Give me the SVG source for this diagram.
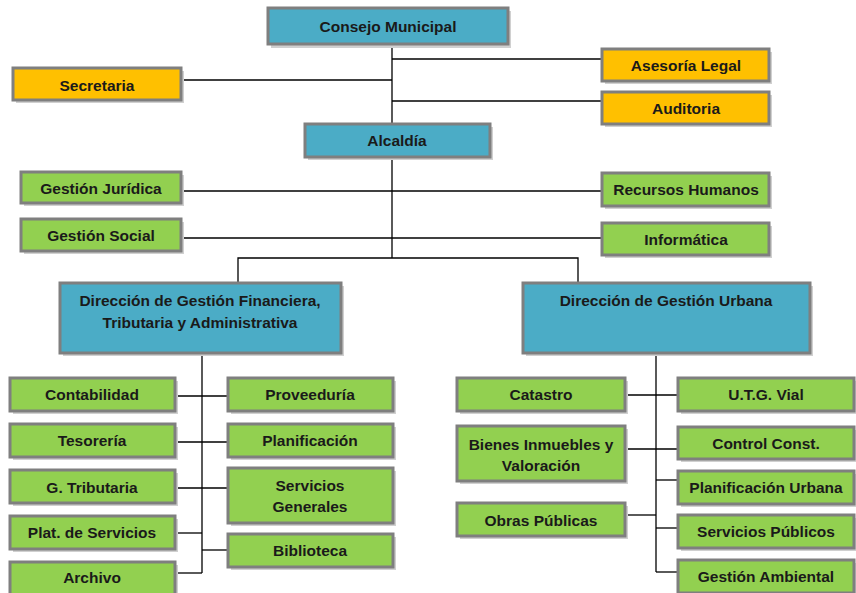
<svg xmlns="http://www.w3.org/2000/svg" width="856" height="593" viewBox="0 0 856 593">
<defs>
<style>
.box{stroke:#7f7f7f;stroke-width:3}
.sh{fill:#d0d0d0}
.b{fill:#4bacc6}
.o{fill:#ffc000}
.g{fill:#92d050}
text{font-family:"Liberation Sans",Arial,sans-serif;font-weight:bold;font-size:15.5px;fill:#1a1a1a;text-anchor:middle;dominant-baseline:central}
.c line,.c path{stroke:#000;stroke-width:1.3;fill:none}
</style>
</defs>
<rect width="856" height="593" fill="#fff"/>
<g class="c" id="connectors">
<line x1="392" y1="45" x2="392" y2="124"/>
<line x1="182" y1="80" x2="392" y2="80"/>
<line x1="392" y1="59" x2="602" y2="59"/>
<line x1="392" y1="101" x2="602" y2="101"/>
<line x1="392" y1="157" x2="392" y2="258"/>
<line x1="182" y1="191" x2="602" y2="191"/>
<line x1="182" y1="238" x2="602" y2="238"/>
<path d="M238,283 V258 H578 V283"/>
<line x1="202" y1="353" x2="202" y2="573"/>
<line x1="175" y1="396" x2="228" y2="396"/>
<line x1="175" y1="442" x2="228" y2="442"/>
<line x1="175" y1="488" x2="228" y2="488"/>
<line x1="175" y1="533" x2="202" y2="533"/>
<line x1="202" y1="550" x2="228" y2="550"/>
<line x1="175" y1="573" x2="202" y2="573"/>
<line x1="656" y1="353" x2="656" y2="572"/>
<line x1="625" y1="395" x2="678" y2="395"/>
<line x1="625" y1="449" x2="678" y2="449"/>
<line x1="625" y1="515" x2="656" y2="515"/>
<line x1="656" y1="480" x2="678" y2="480"/>
<line x1="656" y1="528" x2="678" y2="528"/>
<line x1="656" y1="572" x2="678" y2="572"/>
</g>
<g id="consejo"><rect class="sh" x="271" y="11" width="240" height="37"/><rect class="box b" x="268" y="8" width="240" height="36"/><text x="388" y="26">Consejo Municipal</text></g>
<g id="secretaria"><rect class="sh" x="16" y="71" width="168" height="32"/><rect class="box o" x="13" y="68" width="168" height="32"/><text x="97" y="85">Secretaria</text></g>
<g id="asesoria"><rect class="sh" x="605" y="52" width="167" height="32"/><rect class="box o" x="602" y="49" width="167" height="32"/><text x="686" y="65">Asesoría Legal</text></g>
<g id="auditoria"><rect class="sh" x="605" y="95" width="167" height="32"/><rect class="box o" x="602" y="92" width="167" height="32"/><text x="686" y="108">Auditoria</text></g>
<g id="alcaldia"><rect class="sh" x="308" y="127" width="185" height="33"/><rect class="box b" x="305" y="124" width="185" height="33"/><text x="397" y="140">Alcaldía</text></g>
<g id="juridica"><rect class="sh" x="24" y="175" width="160" height="31"/><rect class="box g" x="21" y="172" width="160" height="31"/><text x="101" y="188">Gestión Jurídica</text></g>
<g id="social"><rect class="sh" x="24" y="222" width="160" height="32"/><rect class="box g" x="21" y="219" width="160" height="32"/><text x="101" y="235">Gestión Social</text></g>
<g id="rrhh"><rect class="sh" x="605" y="176" width="167" height="33"/><rect class="box g" x="602" y="173" width="167" height="33"/><text x="686" y="189">Recursos Humanos</text></g>
<g id="informatica"><rect class="sh" x="605" y="226" width="167" height="32"/><rect class="box g" x="602" y="223" width="167" height="32"/><text x="686" y="239">Informática</text></g>
<g id="dir-fin"><rect class="sh" x="63" y="286" width="281" height="70"/><rect class="box b" x="60" y="283" width="281" height="70"/><text x="200" y="300">Dirección de Gestión Financiera,</text><text x="200" y="322">Tributaria y Administrativa</text></g>
<g id="dir-urb"><rect class="sh" x="526" y="286" width="287" height="70"/><rect class="box b" x="523" y="283" width="287" height="70"/><text x="666" y="300">Dirección de Gestión Urbana</text></g>
<g id="contabilidad"><rect class="sh" x="13" y="381" width="165" height="33"/><rect class="box g" x="10" y="378" width="165" height="33"/><text x="92" y="394">Contabilidad</text></g>
<g id="tesoreria"><rect class="sh" x="13" y="427" width="165" height="33"/><rect class="box g" x="10" y="424" width="165" height="33"/><text x="92" y="440">Tesorería</text></g>
<g id="tributaria"><rect class="sh" x="13" y="473" width="165" height="33"/><rect class="box g" x="10" y="470" width="165" height="33"/><text x="92" y="487">G. Tributaria</text></g>
<g id="plataforma"><rect class="sh" x="13" y="519" width="165" height="33"/><rect class="box g" x="10" y="516" width="165" height="33"/><text x="92" y="532">Plat. de Servicios</text></g>
<g id="archivo"><rect class="sh" x="13" y="565" width="165" height="33"/><rect class="box g" x="10" y="562" width="165" height="33"/><text x="92" y="577">Archivo</text></g>
<g id="proveeduria"><rect class="sh" x="231" y="381" width="165" height="33"/><rect class="box g" x="228" y="378" width="165" height="33"/><text x="310" y="394">Proveeduría</text></g>
<g id="planificacion"><rect class="sh" x="231" y="427" width="165" height="33"/><rect class="box g" x="228" y="424" width="165" height="33"/><text x="310" y="440">Planificación</text></g>
<g id="serv-generales"><rect class="sh" x="231" y="471" width="165" height="55"/><rect class="box g" x="228" y="468" width="165" height="55"/><text x="310" y="485">Servicios</text><text x="310" y="506">Generales</text></g>
<g id="biblioteca"><rect class="sh" x="231" y="537" width="165" height="33"/><rect class="box g" x="228" y="534" width="165" height="33"/><text x="310" y="550">Biblioteca</text></g>
<g id="catastro"><rect class="sh" x="460" y="381" width="168" height="33"/><rect class="box g" x="457" y="378" width="168" height="33"/><text x="541" y="394">Catastro</text></g>
<g id="bienes"><rect class="sh" x="460" y="429" width="168" height="55"/><rect class="box g" x="457" y="426" width="168" height="55"/><text x="541" y="444">Bienes Inmuebles y</text><text x="541" y="465">Valoración</text></g>
<g id="obras"><rect class="sh" x="460" y="506" width="168" height="33"/><rect class="box g" x="457" y="503" width="168" height="33"/><text x="541" y="520">Obras Públicas</text></g>
<g id="utg"><rect class="sh" x="681" y="381" width="176" height="33"/><rect class="box g" x="678" y="378" width="176" height="33"/><text x="766" y="394">U.T.G. Vial</text></g>
<g id="control"><rect class="sh" x="681" y="430" width="176" height="32"/><rect class="box g" x="678" y="427" width="176" height="32"/><text x="766" y="443">Control Const.</text></g>
<g id="plan-urbana"><rect class="sh" x="681" y="474" width="176" height="33"/><rect class="box g" x="678" y="471" width="176" height="33"/><text x="766" y="487">Planificación Urbana</text></g>
<g id="serv-publicos"><rect class="sh" x="681" y="518" width="176" height="33"/><rect class="box g" x="678" y="515" width="176" height="33"/><text x="766" y="531">Servicios Públicos</text></g>
<g id="ambiental"><rect class="sh" x="681" y="563" width="176" height="33"/><rect class="box g" x="678" y="560" width="176" height="33"/><text x="766" y="576">Gestión Ambiental</text></g>
</svg>
